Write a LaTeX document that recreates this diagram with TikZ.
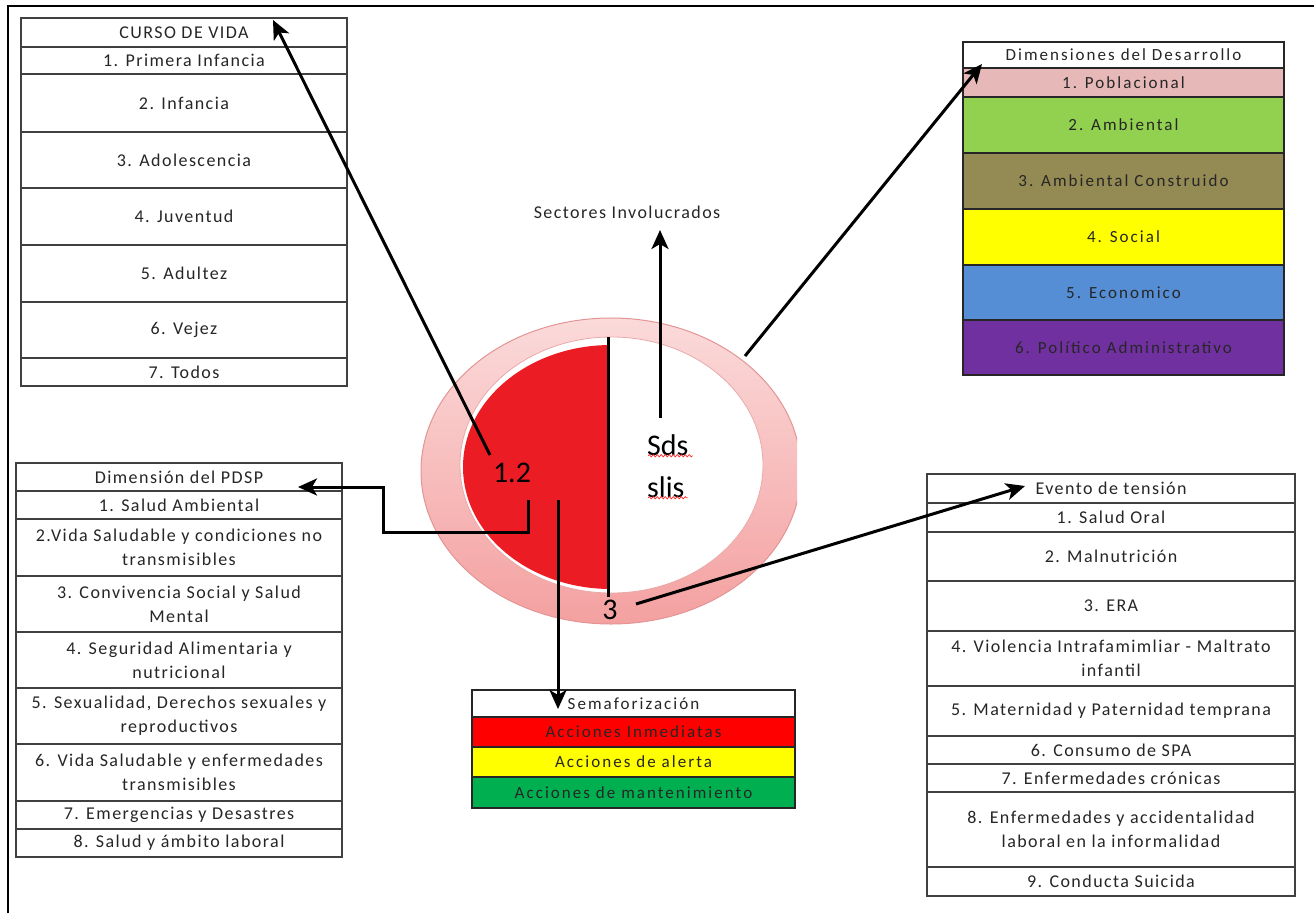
\documentclass[tikz,border=0pt]{standalone}
\usepackage{fontspec}
\setmainfont{Carlito}
\newfontfamily\tabfont[LetterSpace=8]{Carlito}
\newfontfamily\widefont[LetterSpace=12]{Carlito}
\usetikzlibrary{arrows.meta,decorations.pathmorphing,calc}
\definecolor{pobl}{HTML}{E6B8B7}
\definecolor{ambi}{HTML}{92D050}
\definecolor{cons}{HTML}{948A54}
\definecolor{soci}{HTML}{FFFF00}
\definecolor{econ}{HTML}{558ED5}
\definecolor{poli}{HTML}{7030A0}
\definecolor{semred}{HTML}{FF0000}
\definecolor{semyel}{HTML}{FFFF00}
\definecolor{semgrn}{HTML}{00B050}
\definecolor{ringtop}{HTML}{FBDADA}
\definecolor{ringbot}{HTML}{F4A0A0}
\definecolor{ringedge}{HTML}{E39494}
\definecolor{redhalf}{HTML}{EC1C24}
\tikzset{
  cell/.style={draw=black!75, line width=1.6pt, inner sep=0pt, align=center,
    text=black!85, font=\tabfont\fontsize{18}{24}\selectfont},
  wcell/.style={cell, draw=black!85, font=\widefont\fontsize{17}{22}\selectfont},
  conn/.style={line width=3pt, -{Stealth[length=19pt,width=17pt,inset=5pt]}},
  plain/.style={line width=3pt},
  big/.style={font=\fontsize{30}{34}\selectfont, inner sep=0pt},
  squig/.style={draw=red!85, line width=0.7pt, decorate,
    decoration={snake, amplitude=1.1pt, segment length=4pt}}
}
% name, x1, y1, x2, y2, style+fill, text
\newcommand\tabrow[7]{%
  \node[#6, minimum width={(#4-#2)*1pt}, minimum height={(#5-#3)*1pt}]
    (#1) at ({(#2+#4)/2},{(#3+#5)/2}) {#7};}
\begin{document}
\begin{tikzpicture}[x=1pt,y=-1pt]
\useasboundingbox (0,0) rectangle (1314,913);
\draw[line width=2pt] (8,913) -- (8,6) -- (1314,6);

% CURSO DE VIDA
\tabrow{cv0}{21}{18}{347}{47}{cell,fill=white}{CURSO DE VIDA}
\tabrow{cv1}{21}{47}{347}{74}{cell,fill=white}{1. Primera Infancia}
\tabrow{cv2}{21}{74}{347}{132}{cell,fill=white}{2. Infancia}
\tabrow{cv3}{21}{132}{347}{188}{cell,fill=white}{3. Adolescencia}
\tabrow{cv4}{21}{188}{347}{245}{cell,fill=white}{4. Juventud}
\tabrow{cv5}{21}{245}{347}{302}{cell,fill=white}{5. Adultez}
\tabrow{cv6}{21}{302}{347}{358}{cell,fill=white}{6. Vejez}
\tabrow{cv7}{21}{358}{347}{386}{cell,fill=white}{7. Todos}

% Dimension del PDSP
\tabrow{pd0}{16}{463}{342}{491}{cell,fill=white}{Dimensión del PDSP}
\tabrow{pd1}{16}{491}{342}{519}{cell,fill=white}{1. Salud Ambiental}
\tabrow{pd2}{16}{519}{342}{576}{cell,fill=white}{2.Vida Saludable y condiciones no\\transmisibles}
\tabrow{pd3}{16}{576}{342}{632}{cell,fill=white}{3. Convivencia Social y Salud\\Mental}
\tabrow{pd4}{16}{632}{342}{688}{cell,fill=white}{4. Seguridad Alimentaria y\\nutricional}
\tabrow{pd5}{16}{688}{342}{744}{cell,fill=white}{5. Sexualidad, Derechos sexuales y\\reproductivos}
\tabrow{pd6}{16}{744}{342}{801}{cell,fill=white}{6. Vida Saludable y enfermedades\\transmisibles}
\tabrow{pd7}{16}{801}{342}{829}{cell,fill=white}{7. Emergencias y Desastres}
\tabrow{pd8}{16}{829}{342}{857}{cell,fill=white}{8. Salud y ámbito laboral}

% Evento de tension
\tabrow{ev0}{927}{474}{1295}{503}{cell,fill=white}{Evento de tensión}
\tabrow{ev1}{927}{503}{1295}{532}{cell,fill=white}{1. Salud Oral}
\tabrow{ev2}{927}{532}{1295}{581}{cell,fill=white}{2. Malnutrición}
\tabrow{ev3}{927}{581}{1295}{631}{cell,fill=white}{3. ERA}
\tabrow{ev4}{927}{631}{1295}{686}{cell,fill=white}{4. Violencia Intrafamimliar - Maltrato\\infantil}
\tabrow{ev5}{927}{686}{1295}{736}{cell,fill=white}{5. Maternidad y Paternidad temprana}
\tabrow{ev6}{927}{736}{1295}{764}{cell,fill=white}{6. Consumo de SPA}
\tabrow{ev7}{927}{764}{1295}{792}{cell,fill=white}{7. Enfermedades crónicas}
\tabrow{ev8}{927}{792}{1295}{867}{cell,fill=white}{8. Enfermedades y accidentalidad\\laboral en la informalidad}
\tabrow{ev9}{927}{867}{1295}{896}{cell,fill=white}{9. Conducta Suicida}

% Dimensiones del Desarrollo
\tabrow{dd0}{963}{42}{1284}{68}{wcell,fill=white}{Dimensiones del Desarrollo}
\tabrow{dd1}{963}{68}{1284}{97}{wcell,fill=pobl}{1. Poblacional}
\tabrow{dd2}{963}{97}{1284}{153}{wcell,fill=ambi}{2. Ambiental}
\tabrow{dd3}{963}{153}{1284}{209}{wcell,fill=cons}{3. Ambiental Construido}
\tabrow{dd4}{963}{209}{1284}{265}{wcell,fill=soci}{4. Social}
\tabrow{dd5}{963}{265}{1284}{320}{wcell,fill=econ}{5. Economico}
\tabrow{dd6}{963}{320}{1284}{375}{wcell,fill=poli}{6. Político Administrativo}

% Semaforizacion
\tabrow{sm0}{472}{690}{795}{717}{wcell,fill=white}{Semaforización}
\tabrow{sm1}{472}{717}{795}{747}{wcell,fill=semred}{Acciones Inmediatas}
\tabrow{sm2}{472}{747}{795}{777}{wcell,fill=semyel}{Acciones de alerta}
\tabrow{sm3}{472}{777}{795}{808}{wcell,fill=semgrn}{Acciones de mantenimiento}

% Ring
\begin{scope}
  \clip (400,300) rectangle (797,640);
  \shade[top color=ringtop, bottom color=ringbot, draw=ringedge, line width=1pt]
    (611,471) ellipse [x radius=190, y radius=153];
\end{scope}
\draw[fill=white, draw=ringedge!80, line width=0.8pt] (611.5,465) ellipse [x radius=151.5, y radius=128];
\begin{scope}
  \clip (400,300) rectangle (607,620);
  \fill[redhalf] (611,467) ellipse [x radius=148, y radius=122];
\end{scope}
\coordinate (vtop) at (608,337);
\coordinate (vbot) at (608,597);
\draw[plain] (vtop) -- (vbot);

% Center texts
\node[big] (n12) at (512,473) {1.2};
\node[big, anchor=west] (sds) at (647,445) {Sds};
\node[big, anchor=west] (slis) at (647,487) {slis};
\node[big] (three) at (610,610) {3};
\draw[squig] ($(sds.south west)+(1,0)$) -- ($(sds.south east)+(4,0)$);
\draw[squig] ($(slis.south west)+(1,0)$) -- ($(slis.south east)+(3,0)$);
\node[font=\tabfont\fontsize{18}{20}\selectfont, text=black!85, inner sep=0pt] (sect) at (627,212) {Sectores Involucrados};

% Connectors
\coordinate (s1) at (490,455);
\coordinate (t1) at (273,20);
\draw[conn] (s1) -- (t1);

\coordinate (s2) at (528,500);
\coordinate (t2) at (298,487);
\draw[conn] (s2) -- (528,532) -- (383,532) -- (383,487) -- (t2);

\coordinate (s3) at (558,500);
\coordinate (t3) at (558,709);
\draw[conn] (s3) -- (t3);

\coordinate (s4) at (660,418);
\coordinate (t4) at (660,230);
\draw[conn] (s4) -- (t4);

\coordinate (s5) at (745,356);
\coordinate (t5) at (982,64);
\draw[conn] (s5) -- (t5);

\coordinate (s6) at (636,604);
\coordinate (t6) at (1025,486);
\draw[conn] (s6) -- (t6);
\end{tikzpicture}
\end{document}
